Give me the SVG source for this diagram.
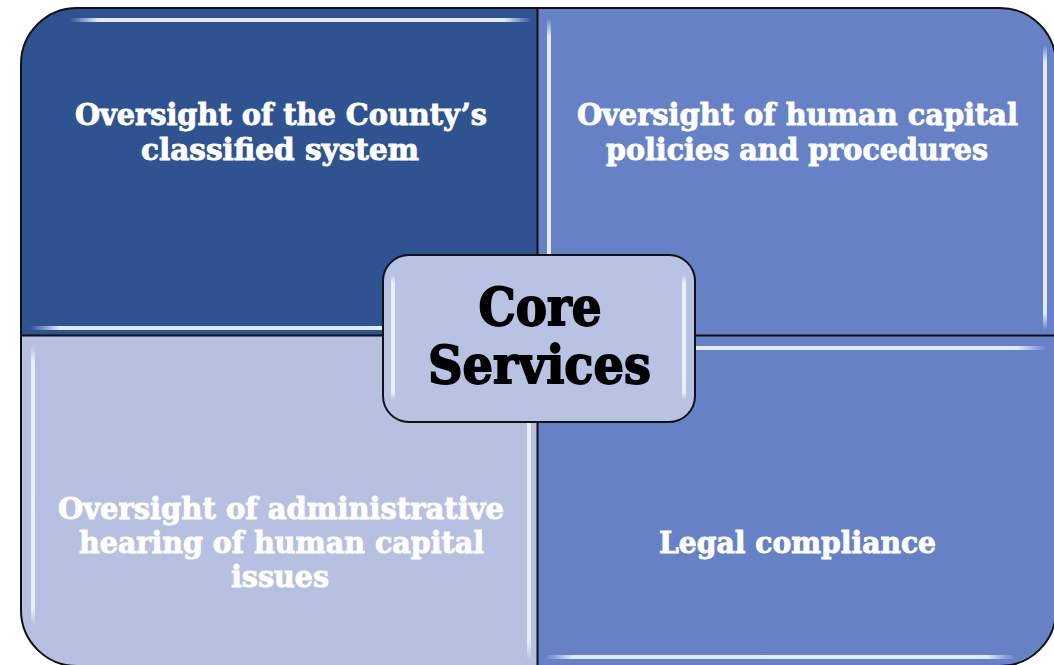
<svg xmlns="http://www.w3.org/2000/svg" width="1054" height="665" viewBox="0 0 1054 665">
<defs>
<clipPath id="outer"><rect x="21" y="8" width="1035" height="658" rx="56" ry="56"/></clipPath>
<linearGradient id="hH" x1="0" y1="0" x2="1" y2="0">
<stop offset="0" stop-color="#eaf2ff" stop-opacity="0"/>
<stop offset="0.06" stop-color="#eaf2ff" stop-opacity="0.95"/>
<stop offset="0.94" stop-color="#eaf2ff" stop-opacity="0.95"/>
<stop offset="1" stop-color="#eaf2ff" stop-opacity="0"/>
</linearGradient>
<linearGradient id="hV" x1="0" y1="0" x2="0" y2="1">
<stop offset="0" stop-color="#eaf2ff" stop-opacity="0"/>
<stop offset="0.06" stop-color="#eaf2ff" stop-opacity="0.95"/>
<stop offset="0.94" stop-color="#eaf2ff" stop-opacity="0.95"/>
<stop offset="1" stop-color="#eaf2ff" stop-opacity="0"/>
</linearGradient>
</defs>
<style>
.q{font-family:"DejaVu Serif","Liberation Serif",serif;font-weight:bold;font-size:29px;fill:#ffffff;stroke:#ffffff;stroke-width:0.9px;text-anchor:middle}
.c{font-family:"DejaVu Serif","Liberation Serif",serif;font-weight:bold;font-size:52px;fill:#000000;stroke:#000000;stroke-width:1.8px;text-anchor:middle}
.div{stroke:#111111;stroke-width:2;fill:none}
</style>
<g clip-path="url(#outer)">
<g id="tl">
<rect x="21" y="8" width="517" height="328" fill="#2f5290"/>
<rect x="70" y="18" width="462" height="4" fill="url(#hH)"/>
<rect x="30" y="326" width="500" height="4" fill="url(#hH)"/>
<text class="q" x="281" y="125" textLength="412" lengthAdjust="spacingAndGlyphs">Oversight of the County’s</text>
<text class="q" x="280" y="160" textLength="278" lengthAdjust="spacingAndGlyphs">classified system</text>
</g>
<g id="tr">
<rect x="538" y="8" width="518" height="328" fill="#6781c6"/>
<rect x="547" y="18" width="4" height="310" fill="url(#hV)"/>
<rect x="1043" y="45" width="4" height="285" fill="url(#hV)"/>
<text class="q" x="797.5" y="125" textLength="441" lengthAdjust="spacingAndGlyphs">Oversight of human capital</text>
<text class="q" x="797" y="160" textLength="382" lengthAdjust="spacingAndGlyphs">policies and procedures</text>
</g>
<g id="bl">
<rect x="21" y="336" width="517" height="330" fill="#b7c0e0"/>
<rect x="31" y="345" width="4" height="280" fill="url(#hV)"/>
<rect x="527" y="345" width="4" height="315" fill="url(#hV)"/>
<text class="q" x="281" y="519" textLength="446" lengthAdjust="spacingAndGlyphs">Oversight of administrative</text>
<text class="q" x="281.5" y="553" textLength="405" lengthAdjust="spacingAndGlyphs">hearing of human capital</text>
<text class="q" x="280" y="587" textLength="98" lengthAdjust="spacingAndGlyphs">issues</text>
</g>
<g id="br">
<rect x="538" y="336" width="518" height="330" fill="#6781c6"/>
<rect x="545" y="346" width="502" height="4" fill="url(#hH)"/>
<rect x="545" y="655" width="470" height="4" fill="url(#hH)"/>
<text class="q" x="797.5" y="553" textLength="277" lengthAdjust="spacingAndGlyphs">Legal compliance</text>
</g>
</g>
<g id="connectors">
<rect x="21" y="8" width="1035" height="658" rx="56" ry="56" class="div"/>
<line x1="537.5" y1="8" x2="537.5" y2="666" class="div"/>
<line x1="21" y1="335.5" x2="1056" y2="335.5" class="div"/>
</g>
<g id="core">
<rect x="383" y="255" width="312" height="167" rx="26" ry="26" fill="#b8c2e2" stroke="#111111" stroke-width="2"/>
<rect x="391" y="275" width="4" height="125" fill="url(#hV)"/>
<rect x="682" y="275" width="4" height="125" fill="url(#hV)"/>
<text class="c" x="540" y="325" textLength="123" lengthAdjust="spacingAndGlyphs">Core</text>
<text class="c" x="539.5" y="383" textLength="223" lengthAdjust="spacingAndGlyphs">Services</text>
</g>
</svg>
